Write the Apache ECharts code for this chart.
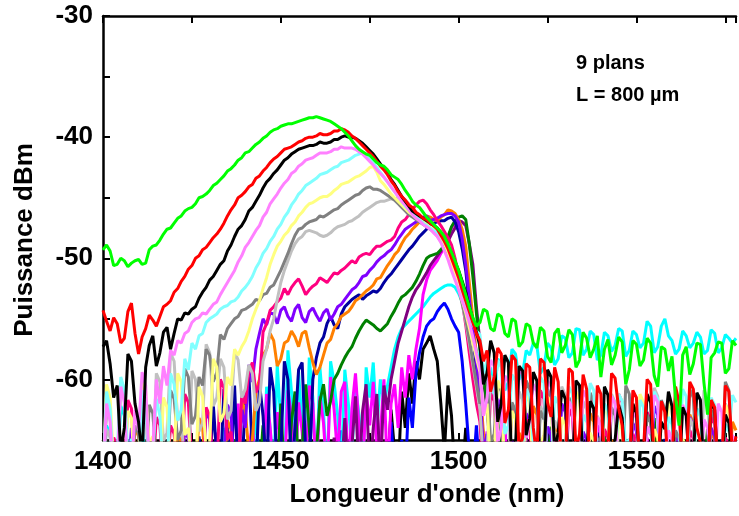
<!DOCTYPE html>
<html><head><meta charset="utf-8">
<script src="https://cdn.jsdelivr.net/npm/echarts@6/dist/echarts.min.js"></script>
<style>html,body{margin:0;padding:0;background:#fff}#c{width:739px;height:516px}</style>
</head><body><div id="c"></div>
<script>
const wavelengths = [
1400,1401,1402,1403,1404,1405,1406,1407,1408,1409,
1410,1411,1412,1413,1414,1415,1416,1417,1418,1419,
1420,1421,1422,1423,1424,1425,1426,1427,1428,1429,
1430,1431,1432,1433,1434,1435,1436,1437,1438,1439,
1440,1441,1442,1443,1444,1445,1446,1447,1448,1449,
1450,1451,1452,1453,1454,1455,1456,1457,1458,1459,
1460,1461,1462,1463,1464,1465,1466,1467,1468,1469,
1470,1471,1472,1473,1474,1475,1476,1477,1478,1479,
1480,1481,1482,1483,1484,1485,1486,1487,1488,1489,
1490,1491,1492,1493,1494,1495,1496,1497,1498,1499,
1500,1501,1502,1503,1504,1505,1506,1507,1508,1509,
1510,1511,1512,1513,1514,1515,1516,1517,1518,1519,
1520,1521,1522,1523,1524,1525,1526,1527,1528,1529,
1530,1531,1532,1533,1534,1535,1536,1537,1538,1539,
1540,1541,1542,1543,1544,1545,1546,1547,1548,1549,
1550,1551,1552,1553,1554,1555,1556,1557,1558,1559,
1560,1561,1562,1563,1564,1565,1566,1567,1568,1569,
1570,1571,1572,1573,1574,1575,1576,1577,1578];

const xTickLabels = [1400,1450,1500,1550];
const yTickLabels = [-30,-40,-50,-60];

const green = [
-49.3,-48.9,-49.4,-50.6,-50.5,-50.0,-50.2,-50.7,-50.4,-50.2,
-50.1,-50.5,-50.4,-49.3,-49.0,-48.9,-48.5,-48.0,-47.6,-47.5,
-47.1,-46.7,-46.5,-46.1,-45.9,-45.8,-45.5,-45.0,-44.9,-44.7,
-44.4,-44.0,-43.8,-43.5,-43.2,-42.8,-42.6,-42.3,-41.9,-41.7,
-41.3,-41.2,-40.9,-40.6,-40.4,-40.1,-39.9,-39.6,-39.4,-39.3,
-39.1,-39.0,-38.9,-38.9,-38.8,-38.7,-38.6,-38.5,-38.4,-38.4,
-38.3,-38.4,-38.5,-38.6,-38.7,-38.9,-39.1,-39.3,-39.6,-39.9,
-40.3,-40.7,-41.0,-41.2,-41.4,-41.5,-41.8,-42.1,-42.3,-42.4,
-42.7,-43.1,-43.3,-43.5,-43.9,-44.4,-44.8,-45.3,-45.6,-45.8,
-46.2,-46.6,-46.9,-47.2,-47.5,-47.8,-48.2,-48.8,-49.5,-50.2,
-51.0,-52.0,-53.0,-54.0,-54.9,-55.6,-55.3,-54.2,-54.4,-55.8,
-56.0,-54.6,-54.8,-56.2,-56.5,-55.0,-55.2,-57.3,-56.9,-55.4,
-55.6,-57.0,-57.4,-55.7,-56.0,-58.1,-58.6,-56.2,-55.8,-57.8,
-57.2,-55.9,-56.3,-59.0,-58.4,-56.1,-56.6,-58.2,-57.5,-56.4,
-59.8,-57.5,-56.7,-58.8,-58.0,-56.5,-56.9,-60.4,-59.2,-56.8,
-57.1,-58.9,-58.4,-56.6,-57.0,-59.7,-60.6,-57.3,-57.5,-59.3,
-58.1,-61.5,-63.8,-58.0,-57.3,-59.6,-58.7,-57.0,-57.1,-60.3,
-62.9,-58.2,-57.8,-56.9,-57.0,-59.5,-59.1,-56.8,-57.2];

const red = [
-54.3,-55.2,-56.0,-54.9,-55.4,-57.0,-56.6,-54.4,-53.7,-56.2,
-57.9,-56.5,-55.8,-54.7,-55.1,-55.6,-54.8,-54.0,-53.8,-53.5,
-52.8,-52.5,-51.9,-51.5,-50.9,-50.6,-50.0,-49.8,-49.3,-49.1,
-48.7,-48.3,-48.0,-47.6,-47.1,-46.5,-46.0,-45.6,-45.0,-44.8,
-44.5,-44.1,-43.9,-43.4,-43.2,-42.8,-42.5,-42.1,-41.8,-41.6,
-41.3,-41.0,-40.9,-40.8,-40.6,-40.4,-40.3,-40.1,-40.0,-40.0,
-39.9,-39.7,-39.8,-39.8,-39.7,-39.5,-39.5,-39.3,-39.4,-39.6,
-39.9,-40.1,-40.4,-40.7,-41.0,-41.3,-41.6,-42.0,-42.4,-42.7,
-43.1,-43.6,-44.0,-44.5,-44.9,-45.2,-45.6,-45.8,-46.2,-46.4,
-46.7,-46.8,-47.1,-47.3,-47.6,-48.1,-48.6,-49.2,-50.0,-50.8,
-51.6,-52.6,-53.5,-54.4,-55.3,-56.2,-56.8,-58.5,-57.6,-61.0,
-59.8,-57.4,-57.9,-63.6,-62.5,-58.0,-58.4,-66.0,-64.8,-58.7,
-59.0,-64.0,-66.5,-58.3,-58.6,-61.9,-63.1,-59.0,-60.2,-68.0,
-67.0,-59.1,-59.4,-65.8,-64.5,-59.6,-60.8,-68.0,-68.0,-60.5,
-61.2,-67.2,-66.0,-59.5,-59.9,-62.4,-63.8,-68.0,-67.5,-60.9,
-61.5,-68.0,-65.9,-60.0,-60.4,-66.9,-68.0,-61.8,-62.7,-68.0,
-66.8,-60.6,-61.9,-68.0,-67.4,-60.2,-60.8,-64.0,-65.2,-68.0,
-68.0,-61.7,-62.3,-68.0,-66.9,-60.5,-61.0,-66.2,-64.7];

const black1 = [
-57.3,-56.8,-58.7,-61.5,-60.5,-66.0,-64.0,-57.9,-58.5,-62.0,
-63.5,-66.5,-59.0,-57.2,-56.4,-58.9,-57.8,-56.1,-55.7,-57.5,
-56.2,-55.0,-55.1,-54.5,-54.6,-54.2,-54.0,-53.3,-52.8,-52.4,
-51.8,-51.5,-51.0,-50.5,-50.2,-49.4,-48.9,-48.2,-47.6,-47.3,
-46.8,-46.1,-45.8,-45.3,-44.8,-44.2,-43.7,-43.4,-43.0,-42.7,
-42.3,-41.9,-41.7,-41.4,-41.2,-41.0,-40.9,-40.8,-40.7,-40.7,
-40.6,-40.4,-40.5,-40.5,-40.4,-40.2,-40.2,-40.0,-39.9,-40.0,
-40.0,-40.1,-40.3,-40.5,-40.8,-41.1,-41.4,-41.8,-42.2,-42.6,
-43.0,-43.5,-43.9,-44.4,-44.9,-45.3,-45.7,-46.1,-46.3,-46.5,
-46.7,-46.9,-47.1,-47.3,-47.5,-47.9,-48.4,-49.0,-49.6,-50.3,
-51.0,-51.9,-52.8,-54.0,-55.0,-56.1,-57.2,-60.4,-59.5,-56.8,
-57.8,-63.5,-62.0,-58.0,-58.6,-68.0,-65.5,-58.9,-59.3,-64.6,
-63.2,-59.4,-60.1,-68.0,-67.0,-59.2,-59.8,-65.8,-64.4,-60.9,
-61.6,-68.0,-68.0,-60.1,-60.5,-67.4,-66.2,-61.8,-62.4,-68.0,
-68.0,-60.6,-61.3,-66.3,-65.0,-62.1,-63.2,-68.0,-68.0,-62.0,
-62.8,-67.4,-66.5,-61.2,-61.9,-68.0,-67.8,-63.5,-64.1,-61.0,
-62.2,-68.0,-68.0,-62.3,-63.0,-67.6,-66.4,-61.1,-61.7,-68.0,
-67.5,-61.9,-62.5,-68.0,-68.0,-62.9,-63.6,-67.0,-65.8];

const pink = [
-68.0,-62.0,-63.5,-68.0,-66.8,-60.6,-61.9,-68.0,-68.0,-62.5,
-64.2,-59.4,-60.5,-67.0,-65.7,-60.0,-62.0,-58.9,-60.5,-57.6,
-58.0,-56.8,-57.0,-56.2,-56.0,-55.3,-55.0,-54.9,-54.5,-54.6,
-54.2,-53.8,-53.6,-53.0,-52.5,-52.0,-51.5,-51.0,-50.3,-49.8,
-49.1,-48.7,-48.2,-47.7,-47.3,-46.6,-46.2,-45.5,-45.1,-44.7,
-44.2,-43.8,-43.5,-43.0,-42.8,-42.4,-42.2,-41.9,-41.8,-41.7,
-41.5,-41.3,-41.3,-41.3,-41.2,-41.0,-41.0,-40.8,-40.9,-40.9,
-40.9,-41.0,-41.2,-41.4,-41.7,-42.0,-42.3,-42.7,-43.0,-43.3,
-43.7,-44.1,-44.5,-44.9,-45.3,-45.6,-46.0,-46.4,-46.7,-46.9,
-47.2,-47.4,-47.6,-47.9,-48.2,-48.7,-49.4,-50.1,-51.0,-51.8,
-52.6,-53.5,-54.3,-55.3,-56.5,-57.8,-59.0,-63.0,-61.5,-58.4,
-58.9,-65.3,-64.0,-59.7,-60.2,-68.0,-68.0,-59.1,-59.6,-64.8,
-63.4,-60.4,-61.0,-68.0,-67.2,-60.1,-60.6,-66.7,-65.5,-68.0,
-68.0,-61.8,-62.4,-68.0,-66.8,-60.9,-61.5,-68.0,-68.0,-63.1,
-63.9,-68.0,-68.0,-61.4,-62.0,-67.9,-66.5,-68.0,-68.0,-62.6,
-63.2,-68.0,-68.0,-63.9,-64.5,-61.3,-61.9,-68.0,-68.0,-64.2,
-65.0,-68.0,-68.0,-62.1,-62.8,-68.0,-67.0,-68.0,-68.0,-63.3,
-64.0,-68.0,-68.0,-62.0,-62.7,-68.0,-68.0,-64.6,-65.3];

const lightCyan = [
-68.0,-61.0,-62.4,-68.0,-66.0,-59.8,-60.8,-66.3,-64.9,-68.0,
-68.0,-60.9,-61.7,-67.2,-65.8,-61.6,-63.0,-68.0,-68.0,-59.5,
-60.4,-63.4,-62.5,-58.3,-59.2,-57.0,-57.5,-56.4,-56.2,-55.3,
-55.0,-54.8,-54.6,-54.2,-54.0,-53.9,-53.6,-53.5,-53.2,-52.7,
-52.4,-52.0,-51.5,-50.8,-50.3,-49.6,-49.2,-48.6,-48.2,-47.6,
-47.2,-46.6,-46.2,-45.6,-45.2,-44.7,-44.4,-44.0,-43.8,-43.6,
-43.4,-43.1,-43.0,-42.9,-42.7,-42.5,-42.4,-42.1,-42.0,-41.9,
-41.7,-41.5,-41.4,-41.3,-41.5,-41.7,-42.1,-42.5,-42.9,-43.3,
-43.7,-44.1,-44.5,-44.9,-45.3,-45.7,-46.0,-46.3,-46.6,-46.8,
-47.1,-47.3,-47.5,-47.7,-47.9,-48.2,-48.6,-49.1,-49.8,-50.6,
-51.6,-52.6,-53.6,-54.6,-55.5,-56.0,-56.3,-59.5,-58.5,-60.2,
-61.2,-58.4,-59.0,-64.5,-63.8,-59.6,-60.1,-67.0,-66.0,-60.8,
-61.4,-65.3,-64.8,-59.8,-60.3,-68.0,-68.0,-61.4,-62.0,-66.4,
-65.7,-60.6,-61.2,-68.0,-68.0,-62.9,-63.5,-60.3,-60.9,-67.0,
-66.4,-62.0,-62.6,-68.0,-68.0,-61.2,-61.8,-65.5,-64.9,-68.0,
-68.0,-61.7,-62.3,-67.3,-66.7,-61.0,-61.6,-68.0,-68.0,-63.1,
-63.7,-66.5,-65.9,-60.8,-61.4,-68.0,-68.0,-62.4,-63.0,-66.8,
-66.2,-61.5,-62.1,-68.0,-68.0,-63.7,-64.3,-61.3,-61.9];

const yellow = [
-68.0,-60.4,-61.5,-67.0,-66.0,-68.0,-68.0,-62.6,-63.2,-68.0,
-68.0,-60.0,-61.0,-65.4,-64.7,-68.0,-68.0,-61.5,-62.3,-67.1,
-66.5,-59.5,-60.2,-64.6,-64.0,-68.0,-68.0,-60.6,-61.4,-66.0,
-65.2,-58.3,-59.0,-63.5,-62.8,-59.8,-60.5,-57.5,-58.0,-57.3,
-56.8,-56.0,-55.0,-54.2,-53.5,-52.5,-51.6,-50.5,-49.7,-49.0,
-48.6,-48.1,-47.8,-47.3,-47.0,-46.5,-46.2,-45.8,-45.5,-45.4,
-45.2,-45.0,-44.9,-44.9,-44.7,-44.4,-44.2,-43.9,-43.8,-43.7,
-43.5,-43.3,-43.2,-43.0,-42.8,-42.5,-42.4,-42.9,-43.6,-43.9,
-44.3,-44.7,-45.0,-45.3,-45.6,-45.9,-46.2,-46.4,-46.6,-46.8,
-47.0,-47.2,-47.4,-47.6,-47.9,-48.3,-48.8,-49.5,-50.4,-51.4,
-52.4,-53.5,-54.5,-55.7,-57.0,-58.2,-59.4,-63.0,-62.0,-67.5,
-66.5,-60.1,-60.8,-68.0,-68.0,-62.6,-63.3,-68.0,-68.0,-61.2,
-61.9,-68.0,-68.0,-65.3,-64.6,-61.4,-62.0,-68.0,-68.0,-63.1,
-63.8,-68.0,-68.0,-61.0,-61.7,-68.0,-68.0,-64.4,-65.1,-68.0,
-68.0,-62.2,-62.9,-68.0,-68.0,-63.5,-64.2,-68.0,-68.0,-65.6,
-66.3,-61.2,-61.9,-68.0,-68.0,-64.1,-64.8,-68.0,-68.0,-61.8,
-62.5,-68.0,-68.0,-64.9,-65.6,-68.0,-68.0,-62.4,-63.1,-68.0,
-68.0,-65.3,-66.0,-68.0,-68.0,-62.1,-62.8,-68.0,-68.0];

const gray = [
-68.0,-62.4,-63.0,-68.0,-68.0,-65.3,-66.0,-68.0,-68.0,-63.8,
-64.5,-68.0,-68.0,-62.1,-62.8,-66.7,-66.0,-68.0,-68.0,-60.9,
-61.6,-65.0,-64.2,-59.1,-59.8,-63.7,-63.0,-59.8,-60.5,-57.5,
-58.0,-60.2,-59.4,-56.3,-56.7,-55.8,-55.4,-55.0,-54.8,-54.3,
-54.2,-54.0,-53.8,-53.4,-53.5,-53.0,-52.9,-52.4,-52.2,-51.6,
-51.0,-50.3,-49.6,-48.8,-48.1,-47.6,-47.5,-47.2,-47.0,-46.9,
-46.8,-46.5,-46.6,-46.4,-46.2,-46.0,-45.9,-45.6,-45.4,-45.2,
-45.0,-44.8,-44.7,-44.4,-44.2,-44.1,-44.3,-44.3,-44.4,-44.6,
-44.8,-45.0,-45.2,-45.5,-45.8,-46.1,-46.4,-46.6,-46.8,-47.0,
-47.2,-47.4,-47.6,-47.8,-48.0,-48.4,-49.0,-49.7,-50.5,-51.5,
-52.5,-53.7,-55.0,-56.7,-58.5,-60.3,-62.0,-59.1,-59.8,-65.2,
-64.5,-60.3,-61.0,-68.0,-68.0,-61.9,-62.6,-66.7,-66.0,-60.1,
-60.8,-68.0,-68.0,-62.6,-63.3,-60.8,-61.5,-67.7,-67.0,-68.0,
-68.0,-61.5,-62.2,-66.1,-65.4,-68.0,-68.0,-61.1,-61.8,-65.4,
-64.7,-68.0,-68.0,-62.3,-63.0,-68.0,-68.0,-60.5,-61.2,-66.7,
-66.0,-68.0,-68.0,-62.9,-63.6,-68.0,-68.0,-61.7,-62.4,-68.0,
-68.0,-64.2,-64.9,-68.0,-68.0,-60.8,-61.5,-67.4,-66.7,-68.0,
-68.0,-62.5,-63.2,-68.0,-68.0,-60.2,-60.9,-66.7,-66.0];

const lightGray = [
-68.0,-64.1,-64.8,-68.0,-68.0,-60.6,-61.3,-67.2,-66.5,-68.0,
-68.0,-62.3,-63.0,-68.0,-68.0,-59.5,-60.2,-65.1,-64.4,-57.8,
-58.5,-63.4,-62.7,-68.0,-68.0,-59.3,-60.0,-64.3,-63.6,-57.1,
-57.8,-62.2,-61.5,-58.3,-59.0,-63.3,-62.6,-57.7,-58.4,-61.5,
-60.8,-58.8,-59.5,-62.6,-61.9,-58.5,-57.5,-56.0,-55.0,-53.4,
-52.0,-51.0,-50.2,-49.4,-48.8,-48.4,-48.2,-47.8,-47.7,-47.8,
-47.9,-48.1,-48.2,-48.1,-47.9,-47.6,-47.4,-47.3,-47.2,-47.0,
-46.9,-46.7,-46.5,-46.2,-46.0,-45.8,-45.6,-45.4,-45.3,-45.3,
-45.2,-45.1,-45.1,-45.0,-45.0,-45.2,-45.5,-45.9,-46.4,-46.7,
-47.0,-47.2,-47.5,-47.8,-48.2,-48.6,-49.0,-49.6,-50.4,-51.4,
-52.4,-53.8,-55.2,-57.0,-58.8,-60.6,-62.5,-67.0,-66.0,-59.7,
-60.4,-68.0,-68.0,-62.8,-63.5,-68.0,-68.0,-61.0,-61.7,-66.3,
-65.6,-68.0,-68.0,-62.2,-62.9,-68.0,-68.0,-63.4,-64.1,-60.6,
-61.3,-68.0,-68.0,-66.9,-66.2,-61.8,-62.5,-68.0,-68.0,-63.0,
-63.7,-68.0,-68.0,-61.2,-61.9,-66.0,-65.3,-68.0,-68.0,-62.1,
-62.8,-68.0,-68.0,-63.9,-64.6,-60.7,-61.4,-68.0,-68.0,-66.7,
-66.0,-61.4,-62.1,-68.0,-68.0,-63.2,-63.9,-68.0,-68.0,-60.9,
-61.6,-66.5,-65.8,-68.0,-68.0,-62.0,-62.7,-68.0,-68.0];

const pinkRed = [
-68.0,-66.2,-68.0,-64.8,-65.5,-68.0,-68.0,-61.7,-62.4,-68.0,
-68.0,-65.3,-66.0,-68.0,-68.0,-63.1,-63.8,-68.0,-68.0,-63.8,
-64.5,-68.0,-68.0,-61.2,-61.9,-66.9,-66.2,-68.0,-68.0,-62.3,
-63.0,-68.0,-68.0,-60.0,-60.7,-65.0,-64.3,-68.0,-68.0,-61.3,
-62.0,-59.3,-58.6,-61.1,-60.4,-56.1,-55.4,-54.3,-54.0,-53.6,
-53.3,-52.5,-53.0,-52.4,-52.0,-51.7,-52.3,-53.0,-52.6,-52.3,
-52.1,-51.6,-51.8,-52.0,-51.6,-51.2,-51.3,-51.0,-50.8,-50.5,
-50.2,-50.4,-49.9,-49.7,-49.6,-49.7,-49.3,-49.0,-49.0,-48.8,
-48.6,-48.5,-48.2,-47.5,-47.0,-46.8,-46.4,-46.0,-45.6,-45.3,
-45.2,-45.5,-46.0,-46.4,-46.9,-47.3,-47.8,-48.3,-48.9,-50.0,
-51.5,-53.5,-55.5,-57.8,-60.0,-62.0,-63.5,-68.0,-68.0,-61.1,
-61.8,-66.7,-66.0,-68.0,-68.0,-62.2,-62.9,-68.0,-68.0,-63.3,
-64.0,-68.0,-68.0,-60.9,-61.6,-68.0,-68.0,-65.0,-65.7,-68.0,
-68.0,-62.4,-63.1,-68.0,-68.0,-65.7,-66.4,-61.6,-62.3,-68.0,
-68.0,-64.1,-64.8,-68.0,-68.0,-61.2,-61.9,-68.0,-68.0,-64.5,
-65.2,-68.0,-68.0,-62.7,-63.4,-68.0,-68.0,-66.1,-66.8,-68.0,
-68.0,-61.9,-62.6,-68.0,-68.0,-64.2,-64.9,-68.0,-68.0,-68.0,
-68.0,-63.0,-63.7,-68.0,-68.0,-64.8,-65.5,-68.0,-68.0];

const violet = [
-68.0,-68.0,-66.2,-68.0,-68.0,-68.0,-68.0,-68.0,-64.0,-68.0,
-68.0,-68.0,-68.0,-65.1,-65.8,-68.0,-68.0,-68.0,-68.0,-65.8,
-66.5,-68.0,-68.0,-64.2,-64.9,-68.0,-68.0,-68.0,-68.0,-62.6,
-63.3,-68.0,-68.0,-65.3,-66.0,-62.1,-62.8,-68.0,-68.0,-62.5,
-64.0,-58.8,-60.2,-57.5,-56.2,-55.0,-55.5,-54.5,-54.6,-55.4,
-54.3,-54.0,-54.8,-55.2,-54.2,-53.8,-54.9,-55.3,-54.4,-54.1,
-54.7,-55.2,-54.5,-54.2,-55.1,-54.6,-54.0,-53.8,-53.4,-53.0,
-52.6,-52.4,-52.0,-51.5,-51.4,-51.0,-50.7,-50.3,-50.0,-49.8,
-49.5,-49.3,-48.9,-48.4,-48.0,-47.6,-47.4,-47.2,-47.0,-46.8,
-46.6,-46.5,-46.9,-46.8,-46.7,-46.5,-46.4,-46.3,-46.3,-46.5,
-47.0,-48.4,-50.5,-53.2,-56.0,-58.5,-61.0,-66.0,-64.5,-68.0,
-68.0,-61.6,-62.3,-68.0,-68.0,-65.1,-65.8,-68.0,-68.0,-62.8,
-63.5,-68.0,-68.0,-68.0,-68.0,-63.9,-64.6,-68.0,-68.0,-62.0,
-62.7,-68.0,-68.0,-68.0,-68.0,-64.3,-65.0,-68.0,-68.0,-63.2,
-63.9,-68.0,-68.0,-68.0,-68.0,-65.4,-66.1,-68.0,-68.0,-63.6,
-64.3,-68.0,-68.0,-68.0,-68.0,-62.2,-62.9,-68.0,-68.0,-68.0,
-68.0,-64.7,-65.4,-68.0,-68.0,-63.1,-63.8,-68.0,-68.0,-68.0,
-68.0,-64.0,-64.7,-68.0,-68.0,-65.3,-66.0,-68.0,-68.0];

const orange = [
-68.0,-68.0,-68.0,-65.3,-66.0,-68.0,-68.0,-68.0,-68.0,-64.0,
-64.7,-68.0,-68.0,-68.0,-68.0,-65.8,-66.5,-68.0,-68.0,-68.0,
-68.0,-64.5,-65.2,-68.0,-68.0,-68.0,-68.0,-63.2,-63.9,-68.0,
-68.0,-66.1,-66.8,-68.0,-68.0,-63.4,-64.1,-68.0,-68.0,-61.8,
-62.5,-66.0,-65.0,-61.0,-60.0,-58.0,-57.5,-56.2,-56.8,-58.9,
-58.3,-57.0,-56.8,-56.0,-56.5,-57.3,-56.2,-56.0,-57.4,-58.6,
-59.6,-59.0,-58.0,-57.0,-56.7,-55.8,-55.4,-54.8,-54.6,-54.4,
-54.0,-53.5,-53.3,-53.0,-52.7,-52.5,-52.2,-51.7,-51.6,-51.1,
-50.6,-50.2,-49.7,-49.4,-48.8,-48.3,-48.0,-47.6,-47.3,-47.0,
-46.8,-46.5,-46.6,-46.8,-46.9,-46.6,-46.4,-46.0,-46.1,-46.3,
-46.8,-47.6,-49.0,-52.0,-55.0,-58.0,-60.5,-64.5,-66.0,-68.0,
-68.0,-62.7,-63.4,-68.0,-68.0,-68.0,-68.0,-64.4,-65.1,-68.0,
-68.0,-62.2,-62.9,-68.0,-68.0,-68.0,-68.0,-63.7,-64.4,-68.0,
-68.0,-68.0,-68.0,-65.6,-66.3,-68.0,-68.0,-62.8,-63.5,-68.0,
-68.0,-68.0,-68.0,-65.0,-65.7,-68.0,-68.0,-68.0,-68.0,-62.1,
-62.8,-68.0,-68.0,-68.0,-68.0,-64.2,-64.9,-68.0,-68.0,-68.0,
-68.0,-65.5,-66.2,-68.0,-68.0,-62.9,-63.6,-68.0,-68.0,-68.0,
-68.0,-64.3,-65.0,-68.0,-68.0,-68.0,-68.0,-63.5,-64.2];

const navy = [
-68.0,-68.0,-68.0,-68.0,-68.0,-68.0,-66.5,-68.0,-68.0,-68.0,
-68.0,-68.0,-68.0,-68.0,-65.8,-68.0,-68.0,-68.0,-68.0,-68.0,
-68.0,-68.0,-66.9,-68.0,-68.0,-68.0,-68.0,-64.7,-68.0,-68.0,
-68.0,-62.0,-66.4,-68.0,-60.8,-64.0,-68.0,-60.5,-68.0,-68.0,
-61.8,-59.5,-66.0,-68.0,-60.3,-63.0,-68.0,-59.0,-61.0,-68.0,
-66.0,-58.5,-60.0,-68.0,-64.0,-59.2,-58.6,-66.0,-68.0,-60.0,
-58.2,-57.0,-56.5,-55.4,-54.8,-55.5,-55.8,-54.6,-54.0,-53.7,
-53.4,-53.2,-53.0,-53.4,-53.1,-52.9,-52.7,-52.8,-52.5,-52.0,
-51.6,-51.3,-50.9,-50.5,-50.1,-49.7,-49.3,-49.0,-48.6,-48.2,
-47.9,-47.6,-47.3,-47.1,-47.0,-46.9,-46.9,-46.7,-46.6,-47.0,
-47.8,-49.2,-51.0,-53.8,-56.5,-59.0,-61.5,-65.0,-68.0,-68.0,
-68.0,-68.0,-68.0,-66.2,-68.0,-68.0,-68.0,-68.0,-68.0,-68.0,
-68.0,-64.8,-68.0,-68.0,-68.0,-68.0,-68.0,-66.0,-68.0,-68.0,
-68.0,-68.0,-65.3,-68.0,-68.0,-68.0,-68.0,-68.0,-68.0,-64.4,
-68.0,-68.0,-68.0,-68.0,-68.0,-66.8,-68.0,-68.0,-68.0,-68.0,
-68.0,-65.6,-68.0,-68.0,-68.0,-68.0,-68.0,-68.0,-64.9,-68.0,
-68.0,-68.0,-68.0,-68.0,-66.1,-68.0,-68.0,-68.0,-68.0,-68.0,
-68.0,-68.0,-68.0,-68.0,-65.0,-68.0,-68.0,-68.0,-68.0];

const darkGreen = [
-68.0,-68.0,-68.0,-68.0,-68.0,-68.0,-68.0,-68.0,-68.0,-68.0,
-68.0,-68.0,-68.0,-68.0,-68.0,-68.0,-68.0,-68.0,-68.0,-68.0,
-68.0,-68.0,-68.0,-68.0,-68.0,-68.0,-68.0,-68.0,-68.0,-68.0,
-68.0,-66.5,-68.0,-68.0,-68.0,-68.0,-68.0,-65.0,-68.0,-68.0,
-68.0,-68.0,-66.2,-68.0,-68.0,-63.8,-68.0,-68.0,-66.5,-68.0,
-62.0,-68.0,-68.0,-63.5,-61.0,-68.0,-66.0,-60.4,-64.0,-68.0,
-66.0,-61.8,-60.4,-63.0,-61.8,-60.0,-59.5,-58.8,-58.2,-57.7,
-57.3,-56.6,-56.0,-55.5,-55.1,-55.3,-55.5,-55.8,-56.0,-55.7,
-55.4,-54.8,-54.3,-53.7,-53.2,-53.0,-52.7,-52.4,-51.9,-51.3,
-50.6,-50.0,-49.8,-49.7,-49.6,-49.3,-48.9,-48.2,-47.4,-46.9,
-46.6,-46.5,-46.8,-48.8,-51.5,-54.5,-57.5,-60.0,-62.0,-66.0,
-68.0,-68.0,-63.4,-68.0,-68.0,-68.0,-68.0,-68.0,-68.0,-65.2,
-68.0,-68.0,-68.0,-68.0,-68.0,-68.0,-63.9,-68.0,-68.0,-68.0,
-68.0,-68.0,-66.7,-68.0,-68.0,-68.0,-68.0,-68.0,-68.0,-68.0,
-68.0,-64.5,-68.0,-68.0,-68.0,-68.0,-68.0,-68.0,-68.0,-66.0,
-68.0,-68.0,-68.0,-68.0,-68.0,-63.2,-68.0,-68.0,-68.0,-68.0,
-68.0,-68.0,-68.0,-65.8,-68.0,-68.0,-68.0,-68.0,-68.0,-68.0,
-64.1,-68.0,-68.0,-68.0,-68.0,-68.0,-68.0,-68.0,-68.0];

const magenta = [
-68.0,-68.0,-68.0,-68.0,-68.0,-68.0,-68.0,-68.0,-66.9,-68.0,
-68.0,-68.0,-68.0,-68.0,-68.0,-68.0,-68.0,-68.0,-68.0,-68.0,
-68.0,-68.0,-68.0,-68.0,-65.9,-68.0,-68.0,-68.0,-68.0,-68.0,
-68.0,-68.0,-64.4,-68.0,-68.0,-68.0,-68.0,-68.0,-62.0,-68.0,
-68.0,-66.0,-63.5,-68.0,-66.0,-68.0,-61.2,-64.0,-68.0,-62.7,
-65.0,-68.0,-60.9,-63.0,-68.0,-61.9,-64.3,-68.0,-60.5,-62.0,
-68.0,-61.4,-63.6,-68.0,-59.8,-62.5,-66.5,-61.0,-60.2,-68.0,
-62.4,-59.5,-64.0,-68.0,-61.0,-63.8,-60.2,-66.0,-64.5,-60.0,
-68.0,-62.0,-60.4,-64.0,-59.0,-61.5,-58.0,-60.0,-57.5,-55.8,
-53.0,-51.8,-51.0,-50.6,-50.2,-49.6,-49.1,-48.3,-47.5,-47.1,
-47.0,-48.0,-49.5,-53.0,-56.0,-59.0,-62.0,-66.0,-64.3,-68.0,
-68.0,-68.0,-68.0,-63.9,-68.0,-68.0,-68.0,-68.0,-66.8,-68.0,
-68.0,-68.0,-68.0,-68.0,-64.6,-68.0,-68.0,-68.0,-68.0,-68.0,
-68.0,-68.0,-65.2,-68.0,-68.0,-68.0,-68.0,-68.0,-68.0,-63.7,
-68.0,-68.0,-68.0,-68.0,-68.0,-68.0,-66.0,-68.0,-68.0,-68.0,
-68.0,-68.0,-68.0,-64.8,-68.0,-68.0,-68.0,-68.0,-68.0,-68.0,
-68.0,-65.9,-68.0,-68.0,-68.0,-68.0,-68.0,-68.0,-68.0,-68.0,
-68.0,-68.0,-68.0,-68.0,-66.5,-68.0,-68.0,-68.0,-68.0];

const purple = [
-68.0,-68.0,-68.0,-68.0,-68.0,-68.0,-68.0,-68.0,-68.0,-68.0,
-68.0,-68.0,-68.0,-68.0,-68.0,-68.0,-68.0,-68.0,-68.0,-68.0,
-68.0,-68.0,-68.0,-68.0,-68.0,-68.0,-68.0,-68.0,-68.0,-68.0,
-68.0,-68.0,-68.0,-68.0,-68.0,-68.0,-68.0,-68.0,-68.0,-68.0,
-68.0,-68.0,-68.0,-68.0,-68.0,-68.0,-68.0,-68.0,-68.0,-68.0,
-68.0,-68.0,-68.0,-68.0,-68.0,-68.0,-68.0,-68.0,-68.0,-68.0,
-68.0,-68.0,-66.5,-68.0,-68.0,-64.8,-68.0,-68.0,-63.2,-68.0,
-65.5,-61.4,-68.0,-62.6,-60.4,-68.0,-64.0,-61.2,-68.0,-60.5,
-62.5,-60.0,-58.5,-57.0,-56.0,-55.0,-54.0,-53.2,-52.6,-52.2,
-51.7,-51.2,-50.6,-50.2,-49.8,-49.4,-49.0,-48.6,-48.0,-47.5,
-46.9,-47.0,-47.3,-48.8,-50.5,-54.0,-57.0,-60.0,-62.5,-66.0,
-68.0,-68.0,-66.0,-68.0,-68.0,-68.0,-68.0,-68.0,-68.0,-64.7,
-68.0,-68.0,-68.0,-68.0,-68.0,-68.0,-66.3,-68.0,-68.0,-68.0,
-68.0,-68.0,-68.0,-68.0,-68.0,-68.0,-65.1,-68.0,-68.0,-68.0,
-68.0,-68.0,-68.0,-68.0,-68.0,-68.0,-67.0,-68.0,-68.0,-68.0,
-68.0,-68.0,-68.0,-68.0,-68.0,-68.0,-65.8,-68.0,-68.0,-68.0,
-68.0,-68.0,-68.0,-68.0,-68.0,-68.0,-66.4,-68.0,-68.0,-68.0,
-68.0,-68.0,-68.0,-68.0,-68.0,-68.0,-68.0,-68.0,-68.0];

const cyan = [
-68.0,-63.8,-64.5,-68.0,-68.0,-62.2,-63.0,-66.0,-68.0,-68.0,
-68.0,-63.5,-68.0,-68.0,-68.0,-68.0,-68.0,-66.0,-68.0,-68.0,
-68.0,-68.0,-68.0,-68.0,-68.0,-68.0,-65.4,-68.0,-68.0,-68.0,
-68.0,-68.0,-68.0,-68.0,-64.0,-68.0,-68.0,-68.0,-68.0,-68.0,
-65.2,-68.0,-68.0,-62.0,-68.0,-68.0,-60.6,-64.0,-68.0,-58.8,
-63.5,-68.0,-57.6,-61.0,-66.0,-59.4,-63.8,-68.0,-58.2,-61.5,
-68.0,-59.0,-62.7,-68.0,-58.5,-60.3,-63.0,-68.0,-59.2,-62.0,
-66.0,-60.5,-63.0,-68.0,-59.0,-61.5,-58.6,-64.0,-60.0,-62.0,
-60.5,-59.0,-57.5,-56.5,-55.8,-55.5,-55.2,-54.9,-54.6,-54.3,
-54.0,-53.6,-53.2,-52.9,-52.7,-52.5,-52.3,-52.2,-52.2,-52.4,
-52.9,-53.6,-54.4,-55.5,-56.5,-57.6,-58.8,-59.6,-60.5,-59.0,
-61.5,-58.3,-58.8,-60.9,-60.2,-57.5,-57.9,-60.0,-59.5,-57.6,
-58.0,-57.0,-57.2,-59.5,-59.0,-57.0,-57.4,-58.8,-58.3,-56.4,
-56.6,-58.2,-57.8,-55.8,-55.9,-58.0,-57.5,-56.0,-56.3,-58.4,
-58.0,-56.1,-56.4,-57.7,-57.2,-55.8,-56.0,-58.1,-57.6,-56.0,
-56.3,-57.4,-57.0,-55.2,-55.6,-57.8,-57.3,-55.6,-55.0,-56.4,
-56.8,-57.9,-57.5,-56.0,-56.4,-57.4,-57.0,-56.1,-56.5,-57.9,
-57.6,-55.9,-56.2,-57.8,-57.4,-56.3,-56.6,-57.0,-56.6];

const blue = [
-68.0,-68.0,-68.0,-68.0,-68.0,-68.0,-68.0,-68.0,-68.0,-68.0,
-68.0,-68.0,-68.0,-68.0,-68.0,-68.0,-68.0,-68.0,-68.0,-68.0,
-68.0,-68.0,-68.0,-68.0,-68.0,-68.0,-68.0,-66.0,-68.0,-68.0,
-68.0,-68.0,-68.0,-68.0,-68.0,-68.0,-68.0,-68.0,-68.0,-68.0,
-68.0,-64.8,-68.0,-68.0,-68.0,-68.0,-66.3,-68.0,-68.0,-68.0,
-68.0,-68.0,-68.0,-65.0,-68.0,-68.0,-68.0,-68.0,-68.0,-68.0,
-68.0,-68.0,-66.5,-68.0,-68.0,-68.0,-68.0,-64.2,-68.0,-68.0,
-68.0,-68.0,-68.0,-68.0,-65.8,-68.0,-68.0,-68.0,-68.0,-68.0,
-68.0,-63.5,-68.0,-68.0,-65.0,-68.0,-61.5,-64.0,-59.5,-57.8,
-56.5,-55.6,-55.2,-55.0,-54.4,-54.0,-53.7,-54.2,-55.0,-55.6,
-56.1,-58.5,-62.0,-66.0,-68.0,-63.8,-68.0,-68.0,-68.0,-65.9,
-68.0,-68.0,-68.0,-68.0,-68.0,-68.0,-68.0,-68.0,-68.0,-68.0,
-68.0,-68.0,-68.0,-68.0,-68.0,-68.0,-68.0,-68.0,-68.0,-68.0,
-68.0,-68.0,-68.0,-68.0,-68.0,-68.0,-68.0,-68.0,-68.0,-68.0,
-68.0,-68.0,-68.0,-68.0,-68.0,-68.0,-68.0,-68.0,-68.0,-68.0,
-68.0,-68.0,-68.0,-68.0,-68.0,-68.0,-68.0,-68.0,-68.0,-68.0,
-68.0,-68.0,-68.0,-68.0,-68.0,-68.0,-68.0,-68.0,-68.0,-68.0,
-68.0,-68.0,-68.0,-68.0,-68.0,-68.0,-68.0,-68.0,-68.0];

const black2 = [
-68.0,-68.0,-68.0,-68.0,-68.0,-68.0,-68.0,-68.0,-68.0,-68.0,
-68.0,-68.0,-68.0,-68.0,-68.0,-68.0,-68.0,-68.0,-68.0,-68.0,
-68.0,-68.0,-68.0,-68.0,-68.0,-68.0,-68.0,-68.0,-68.0,-68.0,
-68.0,-68.0,-68.0,-68.0,-68.0,-68.0,-68.0,-68.0,-68.0,-68.0,
-68.0,-68.0,-68.0,-68.0,-68.0,-68.0,-68.0,-68.0,-68.0,-68.0,
-68.0,-68.0,-68.0,-68.0,-68.0,-68.0,-68.0,-68.0,-68.0,-68.0,
-68.0,-68.0,-68.0,-68.0,-68.0,-68.0,-68.0,-68.0,-68.0,-68.0,
-68.0,-68.0,-68.0,-68.0,-66.4,-68.0,-68.0,-68.0,-64.9,-68.0,
-68.0,-62.5,-66.0,-68.0,-61.0,-64.0,-59.5,-62.0,-58.5,-60.0,
-57.5,-57.0,-56.4,-57.5,-58.5,-62.0,-66.0,-60.5,-63.0,-68.0,
-66.0,-68.0,-64.0,-68.0,-68.0,-68.0,-68.0,-68.0,-68.0,-68.0,
-68.0,-68.0,-68.0,-68.0,-68.0,-68.0,-68.0,-68.0,-68.0,-68.0,
-68.0,-68.0,-68.0,-68.0,-68.0,-68.0,-68.0,-68.0,-68.0,-68.0,
-68.0,-68.0,-68.0,-68.0,-68.0,-68.0,-68.0,-68.0,-68.0,-68.0,
-68.0,-68.0,-68.0,-68.0,-68.0,-68.0,-68.0,-68.0,-68.0,-68.0,
-68.0,-68.0,-68.0,-68.0,-68.0,-68.0,-68.0,-68.0,-68.0,-68.0,
-68.0,-68.0,-68.0,-68.0,-68.0,-68.0,-68.0,-68.0,-68.0,-68.0,
-68.0,-68.0,-68.0,-68.0,-68.0,-68.0,-68.0,-68.0,-68.0];

const curves = [
  {name:'black2', color:'#000000', values:black2},
  {name:'blue', color:'#0000ff', values:blue},
  {name:'cyan', color:'#00ffff', values:cyan},
  {name:'magenta', color:'#ff00ff', values:magenta},
  {name:'purple', color:'#800080', values:purple},
  {name:'darkGreen', color:'#008000', values:darkGreen},
  {name:'navy', color:'#0000a0', values:navy},
  {name:'orange', color:'#ff8000', values:orange},
  {name:'violet', color:'#8000ff', values:violet},
  {name:'pinkRed', color:'#ff0080', values:pinkRed},
  {name:'lightGray', color:'#c0c0c0', values:lightGray},
  {name:'gray', color:'#808080', values:gray},
  {name:'yellow', color:'#ffff80', values:yellow},
  {name:'lightCyan', color:'#80ffff', values:lightCyan},
  {name:'pink', color:'#ff80ff', values:pink},
  {name:'black1', color:'#000000', values:black1},
  {name:'red', color:'#ff0000', values:red},
  {name:'green', color:'#00ff00', values:green}
];

const FONT = '"Liberation Sans", Arial, sans-serif';
const chart = echarts.init(document.getElementById('c'), null, {renderer:'canvas'});
const axisLine = {show:true, lineStyle:{color:'#000', width:2.5}};
const axisTick = {show:true, inside:true, length:7, lineStyle:{color:'#000', width:2}};
chart.setOption({
  animation:false,
  backgroundColor:'#fff',
  grid:{left:103, top:16, right:0, bottom:76, containLabel:false},
  xAxis:[
    {type:'value', min:1400, max:1578, interval:25, position:'bottom',
     axisLine, axisTick, splitLine:{show:false},
     axisLabel:{margin:9, color:'#000', fontFamily:FONT, fontWeight:'bold', fontSize:26,
       formatter:v => xTickLabels.includes(v) ? String(v) : ''}},
    {type:'value', min:1400, max:1578, interval:25, position:'top',
     axisLine, axisTick, splitLine:{show:false}, axisLabel:{show:false}}
  ],
  yAxis:[
    {type:'value', min:-65, max:-30, interval:5, position:'left',
     axisLine, axisTick, splitLine:{show:false},
     axisLabel:{margin:10, color:'#000', fontFamily:FONT, fontWeight:'bold', fontSize:26,
       formatter:v => yTickLabels.includes(v) ? String(v) : ''}}
  ],
  graphic:[
    {type:'text', x:25, y:240, rotation:Math.PI/2,
     style:{text:'Puissance dBm', font:'bold 26px '+FONT, fill:'#000', textAlign:'center', textVerticalAlign:'middle'}},
    {type:'text', x:427, y:495,
     style:{text:"Longueur d'onde (nm)", font:'bold 26px '+FONT, fill:'#000', textAlign:'center', textVerticalAlign:'middle'}},
    {type:'text', x:576, y:63,
     style:{text:'9 plans', font:'bold 20px '+FONT, fill:'#000', textAlign:'left', textVerticalAlign:'middle'}},
    {type:'text', x:576, y:95,
     style:{text:'L = 800 µm', font:'bold 20px '+FONT, fill:'#000', textAlign:'left', textVerticalAlign:'middle'}}
  ],
  series: curves.map(c => ({
    name:c.name, type:'line', xAxisIndex:0, yAxisIndex:0,
    showSymbol:false, symbol:'none', clip:true,
    lineStyle:{color:c.color, width:3}, itemStyle:{color:c.color},
    data: wavelengths.map((w,i) => [w, c.values[i]])
  }))
});
</script></body></html>
